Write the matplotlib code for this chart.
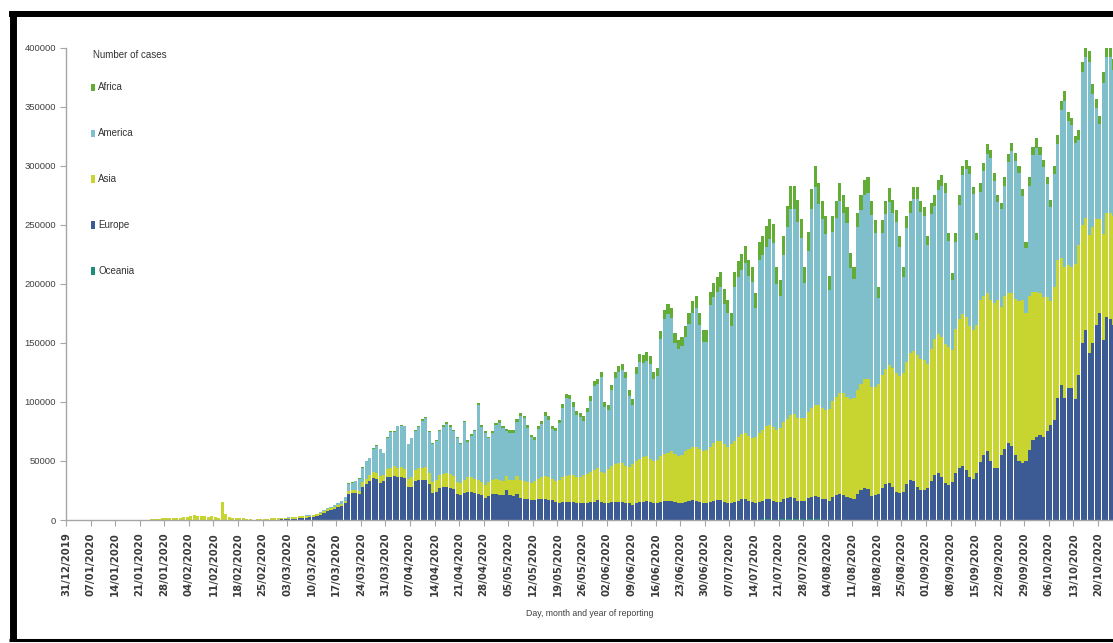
import numpy as np
import pandas as pd
import matplotlib
matplotlib.use('Agg')
import matplotlib.pyplot as plt
from matplotlib.lines import Line2D
from matplotlib.patches import Patch

# Daily new cases (thousands) by continent, from 31/12/2019, one row per week
start_date = '2019-12-31'

europe = [
    0, 0, 0, 0, 0, 0, 0,
    0, 0, 0, 0, 0, 0, 0,
    0, 0, 0, 0, 0, 0, 0,
    0, 0, 0, 0, 0, 0, 0,
    0, 0, 0, 0, 0, 0, 0,
    0, 0, 0, 0, 0, 0, 0,
    0, 0, 0, 0, 0, 0, 0,
    0, 0, 0, 0, 0, 0.05, 0.1,
    0.1, 0.1, 0.2, 0.3, 0.4, 0.5, 0.5,
    0.6, 0.8, 1.0, 1.3, 1.5, 1.8, 2.2,
    2.8, 3.5, 4.5, 6.0, 7.5, 8.5, 9.5,
    11, 12, 14, 22, 23, 23, 22,
    28, 30, 33, 35, 34, 31, 33,
    36, 36, 37, 36, 36, 35, 28,
    28, 33, 34, 34, 34, 30, 23,
    24, 27, 28, 28, 27, 26, 22,
    21, 23, 24, 24, 23, 22, 21,
    19, 20, 22, 22, 21, 21, 25,
    21, 20, 22, 19, 18, 18, 17,
    17, 18, 18, 18, 17, 17, 15,
    14, 15, 15, 15, 15, 14, 14,
    14, 14, 15, 15, 17, 15, 14,
    14, 15, 15, 15, 15, 14, 14,
    13, 14, 15, 15, 16, 15, 14,
    14, 15, 16, 16, 16, 15, 14,
    14, 15, 16, 17, 16, 15, 14,
    14, 15, 16, 17, 17, 15, 14,
    14, 15, 16, 17, 17, 16, 15,
    14, 15, 16, 17, 17, 16, 15,
    15, 17, 18, 19, 18, 16, 16,
    16, 18, 19, 20, 19, 17, 17,
    16, 19, 21, 22, 21, 19, 18,
    18, 22, 25, 27, 26, 20, 21,
    22, 27, 30, 31, 28, 24, 23,
    24, 30, 34, 33, 28, 25, 25,
    27, 33, 38, 40, 36, 31, 30,
    32, 40, 44, 46, 42, 36, 35,
    40, 49, 55, 58, 50, 44, 44,
    55, 60, 65, 63, 55, 50, 48,
    50, 59, 68, 70, 72, 70, 75,
    80, 85, 103, 114, 103, 112, 112,
    102, 123, 150, 161, 141, 150, 165,
    175, 152, 172, 170, 165,
]

asia = [
    0, 0, 0, 0, 0, 0, 0,
    0, 0, 0, 0, 0, 0, 0,
    0, 0, 0, 0, 0, 0, 0.1,
    0.15, 0.3, 0.2, 0.5, 0.7, 0.8, 1.3,
    1.5, 1.5, 1.7, 2.0, 2.1, 2.6, 2.8,
    3.2, 3.9, 3.7, 3.2, 3.4, 2.7, 3.0,
    2.5, 2.0, 15.1, 5.1, 2.6, 2.1, 2.0,
    1.9, 1.8, 0.6, 0.9, 0.4, 0.6, 0.7,
    0.8, 0.9, 1.1, 1.3, 1.5, 1.6, 1.5,
    1.5, 1.5, 1.6, 1.7, 1.8, 1.9, 1.5,
    1.4, 1.5, 1.4, 1.5, 1.5, 1.4, 1.5,
    1.5, 1.8, 2.0, 2.5, 2.5, 2.5, 2.5,
    4, 4.5, 5, 5, 5.5, 5.5, 5,
    7, 7.5, 8, 8, 8.5, 8, 7,
    8, 9, 10, 10, 10.5, 10, 9,
    10, 11, 11, 11.5, 12, 11, 10,
    10, 11, 12, 12, 12, 11.5, 11,
    11, 12, 12, 12.5, 12.5, 12, 12,
    13, 14, 15, 15, 15, 14, 14,
    16, 17, 18, 19, 19, 18, 18,
    20, 21, 22, 23, 23, 22, 22,
    24, 25, 26, 27, 27, 26, 26,
    29, 31, 32, 33, 33, 32, 31,
    34, 36, 37, 38, 38, 37, 36,
    37, 39, 40, 41, 42, 41, 40,
    41, 43, 44, 45, 46, 45, 44,
    45, 47, 49, 50, 50, 49, 48,
    50, 52, 54, 55, 56, 55, 54,
    56, 58, 60, 62, 63, 62, 61,
    62, 65, 67, 69, 71, 70, 70,
    70, 73, 75, 77, 78, 77, 76,
    78, 81, 83, 85, 86, 85, 84,
    85, 88, 90, 92, 93, 92, 91,
    93, 96, 98, 100, 101, 100, 99,
    100, 104, 107, 110, 112, 111, 110,
    105, 112, 115, 117, 119, 118, 116,
    112, 122, 126, 128, 130, 128, 126,
    125, 137, 135, 134, 136, 140, 142,
    125, 130, 127, 129, 132, 135, 138,
    125, 131, 125, 123, 120, 119, 114,
    105, 112, 117, 108, 111, 104, 102,
    115, 110, 100, 95, 100, 98, 90,
    80, 90, 88, 90, 92,
]

america = [
    0, 0, 0, 0, 0, 0, 0,
    0, 0, 0, 0, 0, 0, 0,
    0, 0, 0, 0, 0, 0, 0,
    0, 0, 0, 0, 0, 0, 0,
    0, 0, 0, 0, 0, 0, 0,
    0, 0, 0, 0, 0, 0, 0,
    0, 0, 0, 0, 0, 0, 0,
    0, 0, 0, 0, 0, 0, 0,
    0, 0, 0, 0, 0.01, 0.01, 0.02,
    0.05, 0.05, 0.1, 0.1, 0.1, 0.2, 0.2,
    0.3, 0.4, 0.5, 0.6, 0.9, 1.0, 1.3,
    2, 2.5, 3, 6, 6, 7, 10,
    12, 15, 14, 20, 23, 23, 18,
    26, 31, 29, 35, 35, 36, 29,
    33, 33, 35, 40, 42, 34, 32,
    33, 37, 40, 42, 40, 38, 37,
    33, 49, 30, 35, 40, 64, 47,
    44, 37, 40, 46, 49, 45, 38,
    40, 40, 46, 54, 53, 46, 39,
    35, 42, 45, 51, 49, 42, 42,
    48, 59, 66, 64, 58, 53, 51,
    46, 52, 60, 71, 71, 80, 56,
    50, 64, 73, 77, 79, 74, 60,
    50, 74, 82, 80, 81, 80, 69,
    71, 99, 114, 117, 113, 94, 91,
    92, 97, 106, 113, 117, 105, 93,
    92, 120, 124, 126, 130, 119, 113,
    100, 130, 135, 139, 144, 135, 132,
    109, 147, 148, 152, 157, 156, 123,
    112, 142, 162, 175, 174, 166, 152,
    114, 136, 169, 184, 170, 160, 149,
    100, 143, 151, 163, 153, 147, 111,
    101, 138, 147, 156, 158, 146, 131,
    73, 120, 131, 138, 131, 128, 109,
    82, 113, 119, 129, 132, 125, 122,
    101, 114, 113, 122, 128, 128, 90,
    59, 73, 97, 118, 125, 129, 115,
    72, 92, 105, 118, 120, 103, 83,
    83, 93, 111, 120, 117, 109, 88,
    55, 93, 116, 122, 117, 110, 95,
    80, 96, 98, 125, 141, 122, 120,
    102, 89, 129, 136, 147, 113, 94,
    80, 128, 132, 132, 124,
]

africa = [
    0, 0, 0, 0, 0, 0, 0,
    0, 0, 0, 0, 0, 0, 0,
    0, 0, 0, 0, 0, 0, 0,
    0, 0, 0, 0, 0, 0, 0,
    0, 0, 0, 0, 0, 0, 0,
    0, 0, 0, 0, 0, 0, 0,
    0, 0, 0, 0, 0, 0, 0,
    0, 0, 0, 0, 0, 0, 0,
    0, 0, 0, 0, 0, 0, 0,
    0, 0, 0, 0, 0, 0, 0,
    0.01, 0.02, 0.03, 0.05, 0.05, 0.1, 0.1,
    0.1, 0.1, 0.2, 0.3, 0.3, 0.3, 0.4,
    0.3, 0.4, 0.4, 0.5, 0.5, 0.6, 0.6,
    0.6, 0.7, 0.7, 0.8, 0.8, 0.7, 0.6,
    0.7, 0.8, 0.9, 1.0, 1.0, 0.9, 0.8,
    0.9, 1.0, 1.1, 1.2, 1.2, 1.1, 1.0,
    1.1, 1.2, 1.3, 1.4, 1.4, 1.3, 1.2,
    1.3, 1.5, 1.6, 1.8, 1.8, 1.7, 1.6,
    1.8, 2.0, 2.2, 2.4, 2.4, 2.3, 2.2,
    2.4, 2.6, 2.8, 3.0, 3.0, 2.8, 2.7,
    3.0, 3.2, 3.5, 3.7, 3.8, 3.5, 3.3,
    3.6, 3.9, 4.2, 4.5, 4.6, 4.3, 4.0,
    4.2, 4.6, 5.0, 5.3, 5.4, 5.0, 4.8,
    5.0, 5.6, 6.2, 6.6, 6.8, 6.4, 6.0,
    6.5, 7.2, 8.0, 8.5, 8.8, 8.2, 7.5,
    8.0, 8.8, 9.5, 10, 10.5, 10, 9.5,
    9.5, 10.5, 11.5, 12, 12.5, 12, 11,
    11, 12.5, 13.5, 14, 14.5, 14, 13,
    13, 15, 16, 17, 17.5, 16.5, 15,
    14, 16, 18, 19, 19, 18, 16,
    14, 16, 17, 18, 18, 16, 15,
    12, 14, 15, 15, 15, 14, 13,
    10, 12, 13, 13, 13, 12, 11,
    9, 11, 11, 12, 11, 10, 9,
    8, 10, 10, 10, 10, 9, 8,
    7, 9, 9, 9, 9, 8, 7,
    6, 8, 8, 8, 8, 7, 6,
    6, 7, 7, 8, 7, 7, 6,
    5, 7, 7, 7, 7, 6, 6,
    5, 7, 7, 8, 7, 6, 6,
    6, 7, 8, 8, 8, 7, 6,
    6, 8, 9, 9, 9, 8, 7,
    7, 9, 9, 9, 9,
]

oceania = [
    0, 0, 0, 0, 0, 0, 0,
    0, 0, 0, 0, 0, 0, 0,
    0, 0, 0, 0, 0, 0, 0,
    0, 0, 0, 0, 0, 0, 0,
    0, 0, 0, 0, 0, 0, 0,
    0, 0, 0, 0, 0, 0, 0,
    0, 0, 0, 0, 0, 0, 0,
    0, 0, 0, 0, 0, 0, 0,
    0, 0, 0, 0, 0, 0, 0,
    0, 0, 0, 0, 0, 0, 0,
    0, 0, 0, 0.02, 0.03, 0.04, 0.05,
    0.05, 0.1, 0.1, 0.15, 0.2, 0.2, 0.3,
    0.3, 0.4, 0.4, 0.4, 0.4, 0.4, 0.3,
    0.3, 0.3, 0.3, 0.2, 0.2, 0.2, 0.1,
    0.1, 0.1, 0.1, 0.1, 0.1, 0.1, 0.1,
    0.05, 0.05, 0.05, 0.05, 0.05, 0.05, 0.05,
    0.02, 0.02, 0.02, 0.02, 0.02, 0.02, 0.02,
    0.02, 0.02, 0.02, 0.02, 0.02, 0.02, 0.02,
    0.02, 0.02, 0.02, 0.02, 0.02, 0.02, 0.02,
    0.02, 0.02, 0.02, 0.02, 0.02, 0.02, 0.02,
    0.02, 0.02, 0.02, 0.02, 0.02, 0.02, 0.02,
    0.02, 0.02, 0.02, 0.02, 0.02, 0.02, 0.02,
    0.02, 0.02, 0.02, 0.02, 0.02, 0.02, 0.02,
    0.02, 0.02, 0.02, 0.02, 0.02, 0.02, 0.02,
    0.02, 0.03, 0.03, 0.03, 0.03, 0.03, 0.03,
    0.05, 0.05, 0.05, 0.1, 0.1, 0.1, 0.1,
    0.1, 0.2, 0.2, 0.3, 0.3, 0.2, 0.2,
    0.3, 0.3, 0.4, 0.4, 0.4, 0.3, 0.3,
    0.4, 0.4, 0.5, 0.5, 0.5, 0.4, 0.4,
    0.5, 0.6, 0.7, 0.7, 0.6, 0.5, 0.5,
    0.4, 0.5, 0.6, 0.6, 0.5, 0.4, 0.4,
    0.3, 0.4, 0.4, 0.4, 0.3, 0.3, 0.3,
    0.2, 0.3, 0.3, 0.2, 0.2, 0.2, 0.2,
    0.1, 0.1, 0.1, 0.1, 0.1, 0.1, 0.1,
    0.1, 0.1, 0.1, 0.1, 0.1, 0.1, 0.1,
    0.05, 0.05, 0.05, 0.05, 0.05, 0.05, 0.05,
    0.05, 0.05, 0.05, 0.05, 0.05, 0.05, 0.05,
    0.05, 0.05, 0.05, 0.05, 0.05, 0.05, 0.05,
    0.05, 0.05, 0.05, 0.05, 0.05, 0.05, 0.05,
    0.05, 0.05, 0.05, 0.05, 0.05, 0.05, 0.05,
    0.05, 0.05, 0.05, 0.05, 0.05, 0.05, 0.05,
    0.05, 0.05, 0.05, 0.05, 0.05, 0.05, 0.05,
    0.05, 0.05, 0.05, 0.05, 0.05,
]

legend_order = ['Africa', 'America', 'Asia', 'Europe', 'Oceania']
stack_order = ['Oceania', 'Europe', 'Asia', 'America', 'Africa']
series = {'Africa': africa, 'America': america, 'Asia': asia,
          'Europe': europe, 'Oceania': oceania}
colors = {'Africa': '#63ad36', 'America': '#7fbfcb', 'Asia': '#c8d530',
          'Europe': '#3c5a93', 'Oceania': '#1f8c79'}

for name, vals in series.items():
    assert len(vals) == len(europe), (name, len(vals))

W, H = 1113, 643
plt.rcParams['font.family'] = ['Liberation Sans', 'DejaVu Sans']

fig = plt.figure(figsize=(W / 100, H / 100), dpi=100)
ax = fig.add_axes([66 / W, 1 - 520 / H, (W - 66) / W, (520 - 47.5) / H])

days = np.arange(len(europe))
dates = pd.date_range(start_date, periods=len(days), freq='D')
bottom = np.zeros(len(days))
for name in stack_order:
    vals = np.array(series[name], dtype=float) * 1000
    ax.bar(days + 0.5, vals, width=0.88, bottom=bottom, color=colors[name],
           linewidth=0)
    bottom += vals

ax.set_xlim(0, (W - 66) / 3.51)
ax.set_ylim(0, 400000)
ax.set_yticks(np.arange(0, 400001, 50000))
ax.set_yticklabels([str(v) for v in range(0, 400001, 50000)])

tick_pos = days[::7]
ax.set_xticks(tick_pos)
ax.set_xticklabels([d.strftime('%d/%m/%Y') for d in dates[::7]],
                   rotation=90, fontsize=7.3, fontweight='bold',
                   family='DejaVu Sans', color='#3a3a3a')

for s in ['top', 'right']:
    ax.spines[s].set_visible(False)
for s in ['left', 'bottom']:
    ax.spines[s].set_color('#a6a6a6')
    ax.spines[s].set_linewidth(1.0)
ax.tick_params(axis='y', length=4, color='#a6a6a6', labelsize=6.8,
               labelcolor='#404040', pad=3)
ax.tick_params(axis='x', length=4, color='#a6a6a6', pad=5)

ax.set_xlabel('Day, month and year of reporting', fontsize=6.3,
              color='#404040', labelpad=9)

# legend
fig.text(93 / W, 1 - 55 / H, 'Number of cases', fontsize=7,
         color='#333333', va='center', ha='left')
handles = [Patch(facecolor=colors[n], edgecolor='none') for n in legend_order]
fig.legend(handles, legend_order, loc='upper left',
           bbox_to_anchor=(91 / W, 1 - 82.5 / H), frameon=False, fontsize=7,
           handlelength=0.45, handleheight=0.75, handletextpad=0.3,
           labelspacing=3.7, borderaxespad=0, borderpad=0,
           labelcolor='#333333')

# black frame around the chart
frame = dict(transform=fig.transFigure, color='black', solid_capstyle='butt')
fig.add_artist(Line2D([12.5 / W, 12.5 / W], [1 - 11 / H, 1 - 641 / H], lw=5.0, **frame))
fig.add_artist(Line2D([9 / W, 1.0], [1 - 14 / H, 1 - 14 / H], lw=4.3, **frame))
fig.add_artist(Line2D([9 / W, 1.0], [1 - 639.5 / H, 1 - 639.5 / H], lw=2.2, **frame))

fig.savefig('out.png', dpi=100)
